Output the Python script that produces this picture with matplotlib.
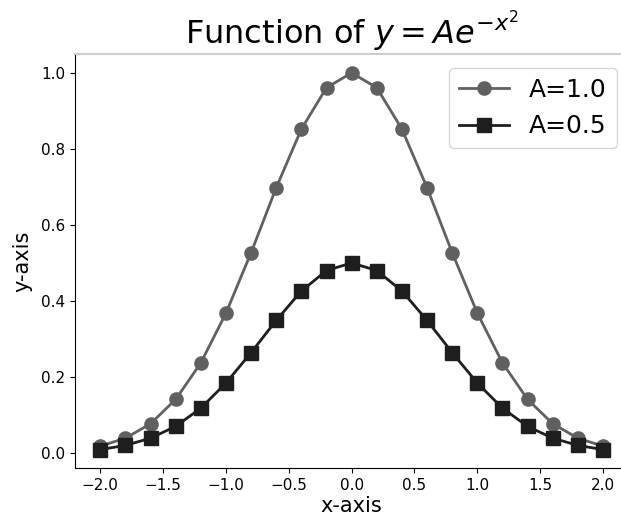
import matplotlib
matplotlib.use("Agg")
import matplotlib.pyplot as plt

# x values from -2 to 2, step 0.2
x = [-2.0, -1.8, -1.6, -1.4, -1.2, -1.0, -0.8, -0.6, -0.4, -0.2, 0.0,
     0.2, 0.4, 0.6, 0.8, 1.0, 1.2, 1.4, 1.6, 1.8, 2.0]

# values
y_a1 = [0.018, 0.039, 0.077, 0.141, 0.237, 0.368, 0.527, 0.698, 0.852, 0.961, 1.0,
        0.961, 0.852, 0.698, 0.527, 0.368, 0.237, 0.141, 0.077, 0.039, 0.018]
y_a05 = [0.009, 0.020, 0.039, 0.070, 0.118, 0.184, 0.264, 0.349, 0.426, 0.480, 0.5,
         0.480, 0.426, 0.349, 0.264, 0.184, 0.118, 0.070, 0.039, 0.020, 0.009]

fig = plt.figure(figsize=(6.21, 5.17), dpi=100)
ax = fig.add_axes([0.121, 0.094, 0.8905, 0.8015])

ax.plot(x, y_a1, color='#606060', marker='o', markersize=9.5, linewidth=2, label='A=1.0')
ax.plot(x, y_a05, color='#1e1e1e', marker='s', markersize=9.5, linewidth=2, label='A=0.5')

ax.set_title(r'Function of $y = Ae^{-x^2}$', fontsize=23, pad=6)
ax.set_xlabel('x-axis', fontsize=15, labelpad=2)
ax.set_ylabel('y-axis', fontsize=15, labelpad=6)
ax.set_xticks([-2.0, -1.5, -1.0, -0.5, 0.0, 0.5, 1.0, 1.5, 2.0])
ax.set_yticks([0.0, 0.2, 0.4, 0.6, 0.8, 1.0])
ax.tick_params(labelsize=11)
ax.spines['top'].set_color('#cccccc')
ax.spines['top'].set_linewidth(1.5)
ax.spines['right'].set_visible(False)
ax.legend(fontsize=18, loc='upper right', borderaxespad=0,
          bbox_to_anchor=(0.9936, 0.8685), bbox_transform=fig.transFigure)

fig.savefig('out.png', dpi=100)
